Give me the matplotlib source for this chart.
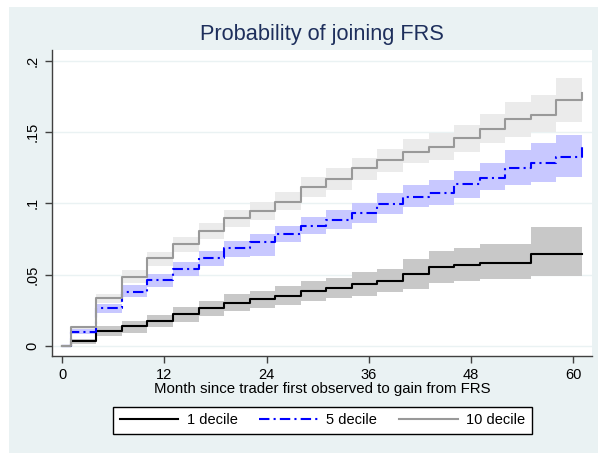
import matplotlib
matplotlib.use("Agg")
import matplotlib.pyplot as plt
from matplotlib.patches import Rectangle

plt.rcParams['font.family'] = ['Liberation Sans', 'DejaVu Sans']

# ---- data ----
months = [0, 1, 4, 7, 10, 13, 16, 19, 22, 25, 28, 31, 34, 37, 40, 43, 46, 49, 52, 55, 58, 61]

d1 = [0, 0.0035, 0.0103, 0.0138, 0.0176, 0.0220, 0.0263, 0.0298, 0.0326, 0.0351, 0.0384,
      0.0405, 0.0431, 0.0454, 0.0506, 0.0550, 0.0567, 0.0579, 0.0579, 0.0644, 0.0644, 0.0644]
d1_lo = [0, 0.0015, 0.0070, 0.0091, 0.0129, 0.0169, 0.0211, 0.0244, 0.0267, 0.0286, 0.0316,
         0.0333, 0.0351, 0.0375, 0.0400, 0.0438, 0.0454, 0.0466, 0.0466, 0.0490, 0.0490, 0.0490]
d1_hi = [0, 0.0050, 0.0138, 0.0176, 0.0216, 0.0270, 0.0316, 0.0361, 0.0386, 0.0419, 0.0454,
         0.0478, 0.0520, 0.0539, 0.0607, 0.0667, 0.0689, 0.0712, 0.0712, 0.0832, 0.0832, 0.0832]

d5 = [0, 0.0098, 0.0263, 0.0379, 0.0461, 0.0539, 0.0614, 0.0684, 0.0726, 0.0782, 0.0843,
      0.0883, 0.0930, 0.0995, 0.1046, 0.1074, 0.1133, 0.1180, 0.1246, 0.1280, 0.1327, 0.1410]
d5_lo = [0, 0.0085, 0.0227, 0.0340, 0.0414, 0.0492, 0.0560, 0.0625, 0.0630, 0.0728, 0.0784,
         0.0817, 0.0860, 0.0923, 0.0976, 0.0988, 0.1035, 0.1093, 0.1129, 0.1152, 0.1187, 0.1187]
d5_hi = [0, 0.0115, 0.0293, 0.0426, 0.0504, 0.0585, 0.0665, 0.0735, 0.0784, 0.0842, 0.0906,
         0.0953, 0.1004, 0.1074, 0.1129, 0.1164, 0.1229, 0.1280, 0.1374, 0.1421, 0.1480, 0.1570]

d10 = [0, 0.0129, 0.0333, 0.0485, 0.0614, 0.0714, 0.0806, 0.0895, 0.0946, 0.1011, 0.1117,
       0.1169, 0.1246, 0.1304, 0.1362, 0.1397, 0.1456, 0.1522, 0.1590, 0.1620, 0.1726, 0.1777]
d10_lo = [0, 0.0118, 0.0298, 0.0438, 0.0560, 0.0656, 0.0747, 0.0836, 0.0883, 0.0953, 0.1046,
          0.1093, 0.1164, 0.1222, 0.1280, 0.1304, 0.1362, 0.1421, 0.1463, 0.1503, 0.1573, 0.1573]
d10_hi = [0, 0.0140, 0.0361, 0.0532, 0.0660, 0.0761, 0.0860, 0.0953, 0.1007, 0.1081, 0.1187,
          0.1246, 0.1320, 0.1379, 0.1449, 0.1492, 0.1550, 0.1627, 0.1713, 0.1760, 0.1878, 0.1950]

labels = ['1 decile', '5 decile', '10 decile']
xticks = [0, 12, 24, 36, 48, 60]
yticks = [0, 0.05, 0.1, 0.15, 0.2]
yticklabels = ['0', '.05', '.1', '.15', '.2']

# ---- figure ----
W, H = 598, 454
fig = plt.figure(figsize=(W / 100, H / 100), dpi=100, facecolor='white')
bg = '#EAF2F3'
fig.patches.append(Rectangle((9 / W, 1 / H), (W - 9) / W, (H - 8) / H,
                             transform=fig.transFigure, facecolor=bg, edgecolor='none', zorder=-10))

ax = fig.add_axes([52.3 / W, 1 - 355.7 / H, (591.7 - 52.3) / W, (355.7 - 50) / H])
ax.set_zorder(1)
ax.set_facecolor('white')

# bands
ax.fill_between(months, d10_lo, d10_hi, step='post', color='#EBEBEB', lw=0, zorder=1)
ax.fill_between(months, d5_lo, d5_hi, step='post', color='#C8C8FF', lw=0, zorder=1)
ax.fill_between(months, d1_lo, d1_hi, step='post', color='#C8C8C8', lw=0, zorder=1)

# lines
l1, = ax.step(months, d1, where='post', color='black', lw=1.5, zorder=3, label=labels[0])
l5, = ax.step(months, d5, where='post', color='#0000FF', lw=1.5, zorder=3,
              linestyle=(0, (5, 2, 1, 2)), label=labels[1])
l10, = ax.step(months, d10, where='post', color='#999999', lw=1.5, zorder=3, label=labels[2])

ax.set_xlim(-1.17, 62.16)
ax.set_ylim(-0.0070, 0.2077)

ax.set_xticks(xticks)
ax.set_yticks(yticks)
ax.set_yticklabels(yticklabels, rotation=90, va='center')
for y in yticks:
    ax.axhline(y, color=bg, lw=1.0, zorder=0.5)

for s in ['top', 'right']:
    ax.spines[s].set_visible(False)
for s in ['left', 'bottom']:
    ax.spines[s].set_color('#404040')
    ax.spines[s].set_linewidth(1.0)
ax.tick_params(axis='both', direction='out', length=5, width=1.0, color='#404040',
               labelsize=10.5, labelcolor='black')
ax.tick_params(axis='x', pad=4)
ax.tick_params(axis='y', pad=4)

ax.set_xlabel('Month since trader first observed to gain from FRS', fontsize=10.8,
              labelpad=0)
ax.set_title('Probability of joining FRS', fontsize=15.7, color='#1E2F5C', pad=7)

leg = fig.legend(handles=[l1, l5, l10], labels=labels, ncol=3, loc='center',
                 bbox_to_anchor=(322.5 / W, 1 - 420.5 / H), fontsize=10.5,
                 handlelength=4.0, handletextpad=0.6, columnspacing=1.5,
                 borderpad=0.45, fancybox=False, framealpha=1, edgecolor='black')
leg.get_frame().set_linewidth(1.0)

fig.savefig('out.png', dpi=100, facecolor='white')
